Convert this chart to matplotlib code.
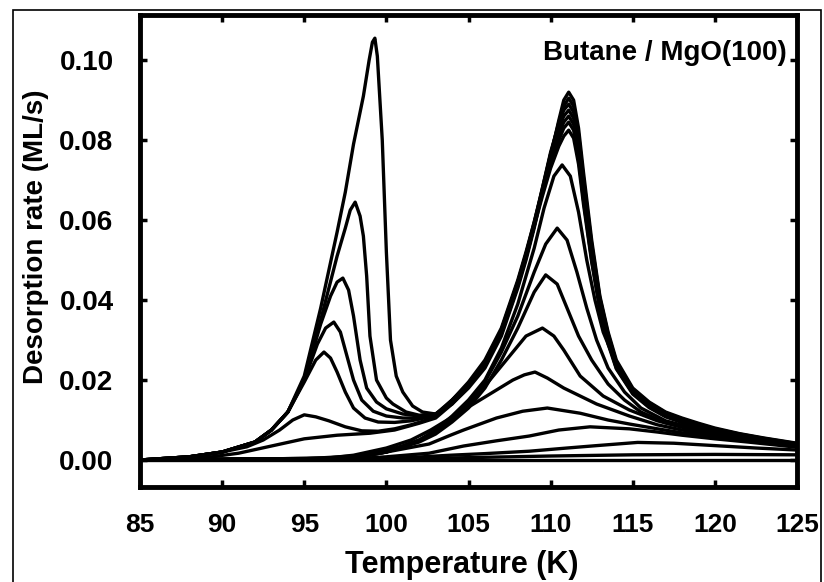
import numpy as np
import matplotlib
matplotlib.use('Agg')
import matplotlib.pyplot as plt
from matplotlib import rc, rcParams
from matplotlib.patches import Rectangle

# bold Arial-like text everywhere
rc('font', family='Liberation Sans', weight='bold')
rcParams['xtick.major.pad'] = 19
rcParams['ytick.major.pad'] = 19

###=========================== data ===========================
# monolayer (high-T) part shared by the saturated curves
T_mono = [103, 104, 105, 106, 107, 108, 108.5, 109, 109.5, 110, 110.5, 110.8, 111.1, 111.4, 111.7, 112, 112.5,
          113, 113.5, 114, 115, 116, 117, 118, 119, 120, 121.5, 123, 125]
r_mono_a = [0.0115, 0.014, 0.018, 0.023, 0.031, 0.043, 0.050, 0.058, 0.067, 0.076, 0.085, 0.090, 0.092, 0.090, 0.083, 0.072, 0.055,
            0.041, 0.032, 0.025, 0.018, 0.0145, 0.012, 0.0105, 0.0092, 0.008, 0.0066, 0.0055, 0.0042]
r_mono_b = [0.0115, 0.0145, 0.0185, 0.0235, 0.0315, 0.0435, 0.0505, 0.0585, 0.0675, 0.0765, 0.0845, 0.0885, 0.0905, 0.0885, 0.0815, 0.0705, 0.0540,
            0.0405, 0.0315, 0.0245, 0.0177, 0.0143, 0.0118, 0.0103, 0.0090, 0.0078, 0.0065, 0.0054, 0.0041]
r_mono_c = [0.0115, 0.015, 0.019, 0.024, 0.032, 0.044, 0.051, 0.059, 0.068, 0.077, 0.084, 0.0875, 0.0890, 0.087, 0.080, 0.069, 0.053,
            0.040, 0.031, 0.024, 0.0174, 0.014, 0.0116, 0.0101, 0.0088, 0.0077, 0.0064, 0.0053, 0.0040]
r_mono_d = [0.0112, 0.015, 0.019, 0.0245, 0.0325, 0.0445, 0.0515, 0.0595, 0.068, 0.0765, 0.083, 0.086, 0.0875, 0.0855, 0.0785, 0.0675, 0.052,
            0.039, 0.0305, 0.0238, 0.0172, 0.0138, 0.0114, 0.0099, 0.0087, 0.0075, 0.0063, 0.0052, 0.0039]
r_mono_e = [0.011, 0.015, 0.0195, 0.025, 0.033, 0.045, 0.052, 0.0595, 0.0675, 0.0755, 0.0815, 0.0845, 0.086, 0.084, 0.077, 0.066, 0.051,
            0.0385, 0.030, 0.0235, 0.017, 0.0135, 0.0112, 0.0097, 0.0085, 0.0074, 0.0062, 0.0051, 0.0038]
r_mono_f = [0.011, 0.0148, 0.0192, 0.0245, 0.0325, 0.0445, 0.0515, 0.059, 0.067, 0.0745, 0.080, 0.083, 0.0845, 0.0825, 0.0755, 0.065, 0.050,
            0.038, 0.0295, 0.023, 0.0167, 0.0133, 0.011, 0.0096, 0.0084, 0.0073, 0.0061, 0.005, 0.0037]
r_mono_g = [0.0105, 0.014, 0.0185, 0.024, 0.032, 0.044, 0.051, 0.0585, 0.066, 0.073, 0.0785, 0.081, 0.0825, 0.0805, 0.074, 0.064, 0.0495,
            0.0375, 0.029, 0.0228, 0.0165, 0.0131, 0.0108, 0.0094, 0.0082, 0.0071, 0.006, 0.0049, 0.0036]

# multilayer (low-T) parts
T_low_a = [85, 88, 90, 92, 93, 94, 95, 96, 97, 97.5, 98, 98.6, 98.95, 99.15, 99.3, 99.45, 99.75, 100.0, 100.25, 100.6, 101.0, 101.6, 102.2]
r_low_a = [0.0, 0.0008, 0.002, 0.0045, 0.0075, 0.012, 0.021, 0.038, 0.057, 0.067, 0.079, 0.091, 0.100, 0.1045, 0.1055, 0.101, 0.080, 0.052, 0.030, 0.021, 0.017, 0.0135, 0.012]
T_low_b = [85, 88, 90, 92, 93, 94, 95, 96, 97, 97.5, 97.8, 98.1, 98.4, 98.6, 98.8, 99.0, 99.4, 100.0, 100.4, 101.2, 102.0]
r_low_b = [0.0, 0.0008, 0.002, 0.0045, 0.0075, 0.012, 0.020, 0.035, 0.051, 0.058, 0.0625, 0.0645, 0.061, 0.056, 0.046, 0.031, 0.020, 0.0155, 0.014, 0.012, 0.0112]
T_low_c = [85, 88, 90, 92, 93, 94, 95, 96, 96.6, 97.0, 97.35, 97.7, 98.0, 98.4, 98.8, 99.4, 100.0, 101.0, 102.0]
r_low_c = [0.0, 0.0008, 0.002, 0.0045, 0.0075, 0.012, 0.020, 0.034, 0.041, 0.0445, 0.0455, 0.0425, 0.036, 0.025, 0.018, 0.0145, 0.0128, 0.0115, 0.011]
T_low_d = [85, 88, 90, 92, 93, 94, 95, 95.8, 96.3, 96.8, 97.2, 97.6, 98.0, 98.5, 99.2, 100.0, 101.0, 102.0]
r_low_d = [0.0, 0.0008, 0.002, 0.0045, 0.0075, 0.012, 0.020, 0.029, 0.033, 0.0345, 0.032, 0.026, 0.020, 0.015, 0.0122, 0.011, 0.0105, 0.0105]
T_low_e = [85, 88, 90, 92, 93, 94, 95, 95.7, 96.2, 96.6, 97.0, 97.5, 98.0, 98.7, 99.5, 100.5, 101.5, 102.3]
r_low_e = [0.0, 0.0008, 0.002, 0.0045, 0.0075, 0.012, 0.0195, 0.025, 0.027, 0.0255, 0.022, 0.017, 0.013, 0.0105, 0.0095, 0.0094, 0.0098, 0.0105]
T_low_f = [85, 88, 90, 91.5, 92.5, 93.5, 94.3, 95.0, 95.7, 96.5, 97.5, 98.5, 99.5, 100.5, 101.5, 102.3]
r_low_f = [0.0, 0.0008, 0.002, 0.0033, 0.005, 0.0075, 0.0100, 0.0113, 0.0108, 0.0098, 0.0083, 0.0073, 0.0072, 0.0078, 0.0088, 0.0098]
T_low_g = [85, 89, 91, 93, 95, 97, 99, 100.5, 102]
r_low_g = [0.0, 0.0006, 0.0017, 0.0035, 0.0053, 0.0062, 0.0067, 0.0075, 0.0092]

# sub-monolayer curves
T_s1 = [85, 98, 100, 102, 103, 104, 105, 106, 107, 108, 109, 109.6, 110.2, 110.7, 111.2, 111.7, 112.2, 112.7, 113.2, 114, 115, 116, 117, 118, 119, 120, 122, 125]
r_s1 = [0, 0.0005, 0.002, 0.005, 0.0075, 0.011, 0.015, 0.020, 0.028, 0.039, 0.053, 0.063, 0.071, 0.0738, 0.071, 0.062, 0.050, 0.040, 0.032, 0.024, 0.017, 0.0135, 0.011, 0.0095, 0.0083, 0.0073, 0.0057, 0.0038]
T_s2 = [85, 98, 100, 102, 103, 104, 105, 106, 107, 108, 109, 109.7, 110.4, 111.0, 111.6, 112.2, 112.8, 113.5, 114.5, 115.5, 117, 118.5, 120, 122, 125]
r_s2 = [0, 0.0005, 0.002, 0.0048, 0.007, 0.010, 0.014, 0.0195, 0.027, 0.036, 0.047, 0.054, 0.058, 0.055, 0.047, 0.038, 0.030, 0.023, 0.017, 0.013, 0.0098, 0.0082, 0.007, 0.0055, 0.0037]
T_s3 = [85, 98, 100, 102, 103, 104, 105, 106, 107, 108, 109, 109.7, 110.4, 111.0, 111.7, 112.5, 113.5, 114.5, 115.5, 117, 118.5, 120, 122, 125]
r_s3 = [0, 0.0005, 0.002, 0.0045, 0.0065, 0.0095, 0.013, 0.018, 0.025, 0.033, 0.042, 0.0463, 0.044, 0.038, 0.031, 0.025, 0.019, 0.015, 0.012, 0.0093, 0.0078, 0.0066, 0.0052, 0.0036]
T_s4 = [85, 97, 99, 101, 102, 103, 104, 105, 106, 106.7, 107.5, 108.5, 109.5, 110.2, 110.8, 111.8, 113.2, 114.8, 116.5, 118, 120, 122, 125]
r_s4 = [0, 0.0004, 0.0015, 0.0035, 0.005, 0.0072, 0.0105, 0.014, 0.0185, 0.022, 0.026, 0.031, 0.033, 0.031, 0.0275, 0.021, 0.016, 0.0125, 0.0098, 0.0082, 0.0066, 0.0052, 0.0035]
T_s5 = [85, 96, 98, 100, 101.5, 102.7, 103.7, 104.7, 105.7, 106.7, 107.7, 108.4, 109.05, 109.8, 110.8, 111.8, 112.8, 114.8, 116.5, 118, 120, 122, 125]
r_s5 = [0, 0.0003, 0.0012, 0.003, 0.005, 0.0075, 0.010, 0.0125, 0.015, 0.0175, 0.020, 0.0213, 0.022, 0.0205, 0.018, 0.016, 0.014, 0.011, 0.0088, 0.0075, 0.0062, 0.005, 0.0034]
T_s6 = [85, 95, 98, 100, 102.6, 103.9, 104.7, 106.7, 108.3, 109.8, 111.8, 113.5, 114.8, 116.5, 118, 120, 122, 125]
r_s6 = [0, 0.0003, 0.001, 0.002, 0.004, 0.0062, 0.0075, 0.0105, 0.0122, 0.013, 0.0117, 0.010, 0.009, 0.0078, 0.0068, 0.0058, 0.0048, 0.0033]
T_s7 = [85, 98, 100, 102.6, 104.7, 106.7, 108.7, 110.5, 112.4, 114.8, 116.5, 118, 120, 122, 125]
r_s7 = [0, 0.0003, 0.0008, 0.0017, 0.0035, 0.0048, 0.006, 0.0075, 0.0083, 0.0078, 0.007, 0.0062, 0.0053, 0.0045, 0.0032]
T_s8 = [85, 100, 103.9, 106, 108.7, 111, 112.8, 115.3, 117.5, 120, 122.5, 125]
r_s8 = [0, 0.0003, 0.0012, 0.0016, 0.0022, 0.003, 0.0036, 0.0044, 0.0042, 0.0036, 0.003, 0.0025]
T_s9 = [85, 100, 105, 110, 115, 120, 125]
r_s9 = [0, 0.0002, 0.0006, 0.0010, 0.0013, 0.0014, 0.0013]
T_base = [85, 125]
r_base = [0.0, 0.0]

xticks = [85, 90, 95, 100, 105, 110, 115, 120, 125]
yticks = [0.00, 0.02, 0.04, 0.06, 0.08, 0.10]
xlabel = 'Temperature (K)'
ylabel = 'Desorption rate (ML/s)'
title = 'Butane / MgO(100)'

###=========================== figure ===========================
fig = plt.figure(figsize=(8.24, 5.82), dpi=100)
ax = fig.add_axes([140/824, 95/582, 657/824, 472/582])

curves = [
    (T_low_a + T_mono, r_low_a + r_mono_a),
    (T_low_b + T_mono, r_low_b + r_mono_b),
    (T_low_c + T_mono, r_low_c + r_mono_c),
    (T_low_d + T_mono, r_low_d + r_mono_d),
    (T_low_e + T_mono, r_low_e + r_mono_e),
    (T_low_f + T_mono, r_low_f + r_mono_f),
    (T_low_g + T_mono, r_low_g + r_mono_g),
    (T_s1, r_s1), (T_s2, r_s2), (T_s3, r_s3), (T_s4, r_s4), (T_s5, r_s5),
    (T_s6, r_s6), (T_s7, r_s7), (T_s8, r_s8), (T_s9, r_s9), (T_base, r_base),
]
for T, r in curves:
    ax.plot(T, r, color='k', lw=2.4, solid_joinstyle='round', solid_capstyle='round')

ax.set_xlim(85, 125)
ax.set_ylim(-0.00675, 0.1113)
ax.set_xticks(xticks)
ax.set_xticklabels([str(t) for t in xticks], fontsize=19)
ax.set_yticks(yticks)
ax.set_yticklabels(['%.2f' % t for t in yticks], fontsize=20)
ax.tick_params(direction='in', top=True, right=True, length=5, width=2.5)
for s in ax.spines.values():
    s.set_linewidth(3.5)

ax.set_xlabel(xlabel, fontsize=22, fontweight='bold', va='center')
ax.xaxis.set_label_coords(0.489, -0.165)
ax.set_ylabel(ylabel, fontsize=20, fontweight='bold', va='center')
ax.yaxis.set_label_coords(-0.158, 0.53)

ax.text(0.985, 0.919, title, transform=ax.transAxes, ha='right', va='center', fontsize=20, fontweight='bold')

# thin outer frame around the whole picture
fig.add_artist(Rectangle((13/824, -0.02), 808/824, 1.0028, transform=fig.transFigure,
                         fill=False, ec='k', lw=1.2))

fig.savefig('out.png', dpi=100)
